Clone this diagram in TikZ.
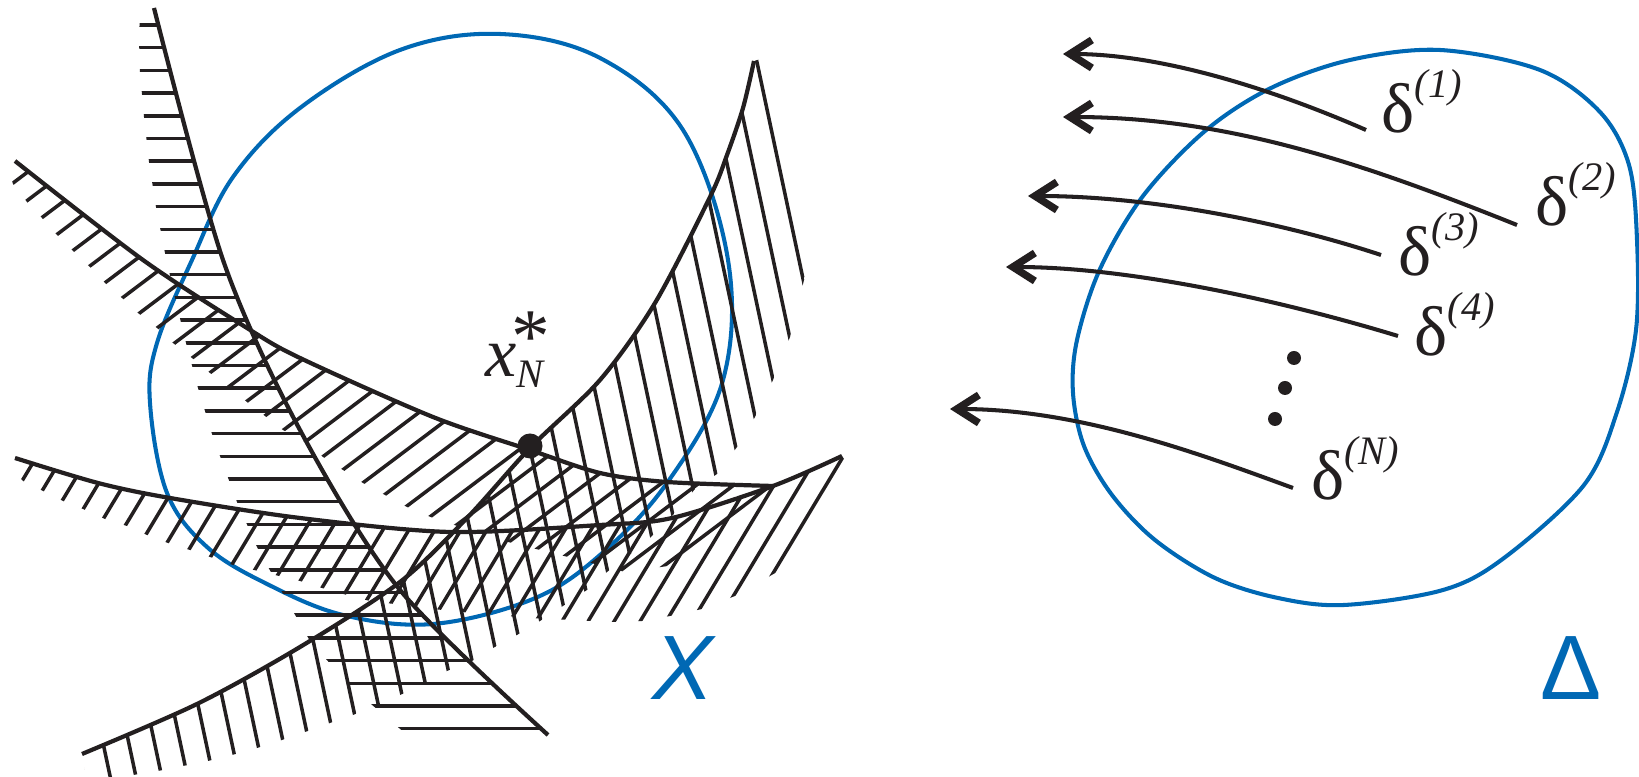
\documentclass[tikz,border=0pt]{standalone}
\usepackage{fontspec}
\setmainfont{Liberation Serif}
\newfontfamily\lsans{Liberation Sans}
\usetikzlibrary{arrows.meta}
\definecolor{xblue}{RGB}{0,104,180}
\definecolor{ink}{RGB}{35,31,32}
\newcommand\hatchset[5]{%
  \foreach \k in {#5}{%
    \pgfmathsetmacro\hx{#1+\k*#4*cos(#3+90)}%
    \pgfmathsetmacro\hy{#2+\k*#4*sin(#3+90)}%
    \draw[hatch] ({\hx-1500*cos(#3)},{\hy-1500*sin(#3)}) -- ({\hx+1500*cos(#3)},{\hy+1500*sin(#3)});%
  }}
\begin{document}
\begin{tikzpicture}[x=0.01cm,y=-0.01cm,
  curve/.style={draw=ink,line width=1.2pt},
  hatch/.style={draw=ink,line width=1pt},
  blob/.style={draw=xblue,line width=1.15pt},
  arr/.style={draw=ink,line width=1.15pt,-{Straight Barb[length=2.2mm,width=2.8mm,line width=2.1pt]}},
  dlabel/.style={anchor=base west,inner sep=0,text=ink,font=\fontsize{20}{24}\selectfont},
  setlabel/.style={anchor=base west,inner sep=0,text=xblue,font=\lsans\fontsize{26}{30}\selectfont}]
\useasboundingbox (0,0) rectangle (1639,777);

% ---------- set X ----------
\draw[blob] plot[smooth cycle,tension=0.6] coordinates {(500,34) (600,58) (683,130) (728,260) (723,380) (667,483) (600,555) (533,599) (433,624) (343,615) (267,584) (207,547) (167,493) (150,403) (157,343) (192,260) (233,177) (300,108) (400,50)};

% ---------- hatching ----------
\begin{scope}
\clip plot[smooth,tension=0.5] coordinates {(154,8) (223,260) (300,430) (400,590) (548,735)} -- (548,740) -- (413,740) -- (350,686) -- (310,641) -- (282,592) -- (257,547) -- (237,502) -- (220,456) -- (212,434) -- (198,388) -- (186,343) -- (175,298) -- (165,253) -- (156,207) -- (149,162) -- (144,117) -- (140,72) -- (139,40) -- (140,12) -- cycle;
\hatchset{0}{25}{0}{22.7}{0,...,31}
\end{scope}
\begin{scope}
\clip plot[smooth,tension=0.5] coordinates {(15,161) (143,260) (247,328) (300,358) (433,417) (530,450) (600,473) (667,482) (773,486)} -- (773,492) -- (720,537) -- (668,566) -- (625,572) -- (580,560) -- (500,540) -- (433,518) -- (407,507) -- (385,495) -- (363,483) -- (343,470) -- (323,457) -- (305,442) -- (283,430) -- (265,416) -- (247,402) -- (230,388) -- (210,373) -- (192,358) -- (173,343) -- (157,328) -- (138,313) -- (122,298) -- (105,283) -- (90,267) -- (72,250) -- (57,235) -- (42,218) -- (27,202) -- (13,184) -- (8,168) -- cycle;
\hatchset{305}{442}{143}{22.5}{-16,...,18}
\end{scope}
\begin{scope}
\clip plot[smooth,tension=0.5] coordinates {(15,458) (98,483) (170,498) (300,518) (450,532) (600,525) (672,518) (773,486) (842,456)} -- (846,462) -- (777,572) -- (735,596) -- (702,609) -- (670,616) -- (642,621) -- (613,622) -- (530,618) -- (450,611) -- (370,601) -- (347,595) -- (322,588) -- (300,581) -- (233,565) -- (213,558) -- (190,550) -- (168,543) -- (147,535) -- (127,526) -- (105,519) -- (83,509) -- (63,501) -- (43,491) -- (23,481) -- (8,466) -- cycle;
\hatchset{641.7}{618.7}{121}{22.3}{-5,...,28}
\end{scope}
\begin{scope}
\clip plot[smooth,tension=0.5] coordinates {(82,754) (197,704) (300,647) (400,582) (467,518) (530,448) (600,380) (655,303) (710,197) (727,155) (743,108) (754,61)} -- (764,58) -- (806,272) -- (790,337) -- (773,380) -- (755,417) -- (737,447) -- (717,474) -- (695,489) -- (673,515) -- (650,538) -- (628,556) -- (607,572) -- (587,590) -- (563,606) -- (540,621) -- (517,635) -- (493,648) -- (472,661) -- (447,671) -- (423,685) -- (400,695) -- (377,705) -- (353,715) -- (330,723) -- (305,732) -- (282,740) -- (257,748) -- (232,755) -- (208,761) -- (183,766) -- (158,771) -- (133,775) -- (107,778) -- (85,770) -- cycle;
\hatchset{758}{67}{78}{25.2}{-1,...,33}
\end{scope}

% ---------- constraint curves ----------
\draw[curve] plot[smooth,tension=0.5] coordinates {(154,8) (223,260) (300,430) (400,590) (548,735)};
\draw[curve] plot[smooth,tension=0.5] coordinates {(15,161) (143,260) (247,328) (300,358) (433,417) (530,450) (600,473) (667,482) (773,486)};
\draw[curve] plot[smooth,tension=0.5] coordinates {(15,458) (98,483) (170,498) (300,518) (450,532) (600,525) (672,518) (773,486) (842,456)};
\draw[curve] plot[smooth,tension=0.5] coordinates {(82,754) (197,704) (300,647) (400,582) (467,518) (530,448) (600,380) (655,303) (710,197) (727,155) (743,108) (754,61)};

% ---------- optimum ----------
\fill[ink] (530,446) circle (12.5);
\node[dlabel] (xstar) at (485,377) {\itshape x\makebox[0pt][l]{\hspace{-1.5pt}\raisebox{4.2pt}{\upshape\fontsize{22}{22}\selectfont *}}\raisebox{-3.1pt}{\fontsize{11.5}{12}\selectfont N}};
\node[setlabel,font=\lsans\itshape\fontsize{26}{30}\selectfont] (Xlab) at (652,700) {X};

% ---------- set Delta ----------
\draw[blob] plot[smooth cycle,tension=0.55] coordinates {(1440,50) (1540,70) (1600,112) (1629,165) (1637,240) (1636,330) (1617,412) (1584,485) (1504,558) (1443,590) (1344,605) (1278,598) (1215,578) (1155,540) (1112,495) (1084,446) (1073,393) (1077,340) (1100,269) (1143,196) (1205,131) (1271,88) (1350,60)};
\node[setlabel] (Dlab) at (1540,700) {Δ};

% ---------- samples ----------
\node[dlabel] (d1) at (1381,133) {δ\raisebox{10pt}{\fontsize{11.5}{12}\selectfont\itshape (1)}};
\node[dlabel] (d2) at (1535,226) {δ\raisebox{10pt}{\fontsize{11.5}{12}\selectfont\itshape (2)}};
\node[dlabel] (d3) at (1398,276) {δ\raisebox{10pt}{\fontsize{11.5}{12}\selectfont\itshape (3)}};
\node[dlabel] (d4) at (1414,356) {δ\raisebox{10pt}{\fontsize{11.5}{12}\selectfont\itshape (4)}};
\node[dlabel] (dN) at (1311,500) {δ\raisebox{10pt}{\fontsize{11.5}{12}\selectfont\itshape (N)}};

\coordinate (e1) at (1366,130); \coordinate (t1) at (1063,54);
\coordinate (e2) at (1517,225); \coordinate (t2) at (1063,117);
\coordinate (e3) at (1381,255); \coordinate (t3) at (1028,196);
\coordinate (e4) at (1398,336); \coordinate (t4) at (1006,267);
\coordinate (eN) at (1293,488); \coordinate (tN) at (950,409);
\draw[arr] (e1) .. controls (1270,88) and (1160,54) .. (t1);
\draw[arr] (e2) .. controls (1367,165) and (1230,117) .. (t2);
\draw[arr] (e3) .. controls (1281,222) and (1150,196) .. (t3);
\draw[arr] (e4) .. controls (1283,301) and (1130,267) .. (t4);
\draw[arr] (eN) .. controls (1200,454) and (1080,409) .. (tN);

\fill[ink] (1294,358) circle (7) (1285,388) circle (7) (1275,419) circle (7);
\end{tikzpicture}
\end{document}
